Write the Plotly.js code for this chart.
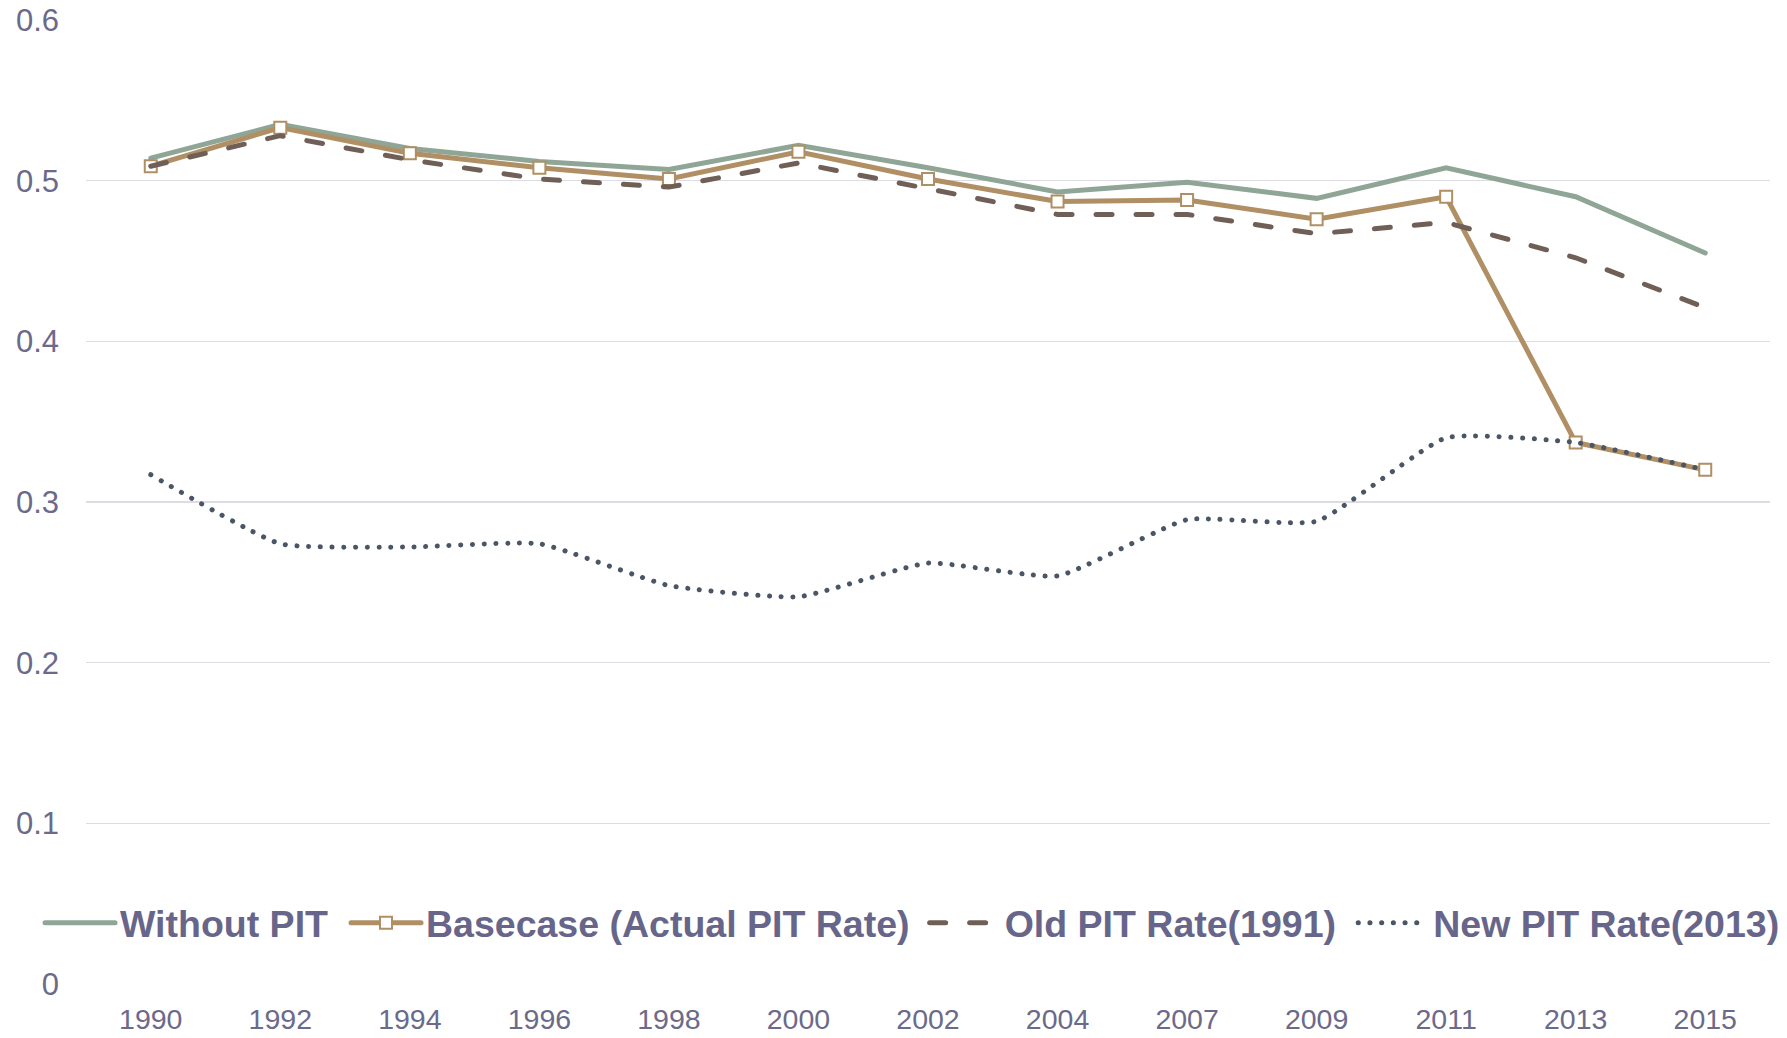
<!DOCTYPE html>
<html>
<head>
<meta charset="utf-8">
<script src="https://cdn.plot.ly/plotly-3.0.1.min.js"></script>
<style>
html, body { margin: 0; padding: 0; background: #ffffff; }
#chart { width: 1787px; height: 1038px; }
path.js-line { stroke-linecap: round; }
</style>
</head>
<body>
<div id="chart"></div>
<script>
var years = ["1990","1992","1994","1996","1998","2000","2002","2004","2007","2009","2011","2013","2015"];
var withoutPIT = [0.514, 0.535, 0.520, 0.512, 0.507, 0.522, 0.508, 0.493, 0.499, 0.489, 0.508, 0.490, 0.455];
var basecase   = [0.509, 0.533, 0.517, 0.508, 0.501, 0.518, 0.501, 0.487, 0.488, 0.476, 0.490, 0.337, 0.320];
var oldPIT     = [0.509, 0.528, 0.513, 0.501, 0.496, 0.511, 0.495, 0.479, 0.479, 0.467, 0.474, 0.452, 0.421];
var newPIT     = [0.317, 0.274, 0.272, 0.274, 0.248, 0.241, 0.262, 0.254, 0.289, 0.288, 0.340, 0.337, 0.320];
var yTicks = [0, 0.1, 0.2, 0.3, 0.4, 0.5, 0.6];
var seriesNames = ["Without PIT", "Basecase (Actual PIT Rate)", "Old PIT Rate(1991)", "New PIT Rate(2013)"];

var textColor = '#6b6a8a';
var fontFamily = 'Liberation Sans, Arial, sans-serif';

var traces = [
  {
    x: years, y: withoutPIT, name: seriesNames[0], type: 'scatter', mode: 'lines',
    line: {color: '#8fa596', width: 5}, legend: 'legend'
  },
  {
    x: years, y: basecase, name: seriesNames[1], type: 'scatter', mode: 'lines+markers',
    line: {color: '#b08f64', width: 5},
    marker: {symbol: 'square', size: 12, color: '#ffffff', line: {color: '#b08f64', width: 2}},
    legend: 'legend2'
  },
  {
    x: years, y: oldPIT, name: seriesNames[2], type: 'scatter', mode: 'lines',
    line: {color: '#6f5f57', width: 5, dash: '16px,24px'}, legend: 'legend3'
  },
  {
    x: years, y: newPIT, name: seriesNames[3], type: 'scatter', mode: 'lines',
    line: {color: '#4a5566', width: 5, dash: '0.1px,11.6px', shape: 'spline', smoothing: 0.45},
    legend: 'legend4'
  }
];

function mkLegend(xPos) {
  return {
    orientation: 'h', x: xPos, y: 0.0633, xanchor: 'left', yanchor: 'middle',
    bgcolor: 'rgba(0,0,0,0)', itemwidth: 70,
    font: {family: fontFamily, size: 37.5, color: '#67668a', weight: 'bold'}
  };
}

var layout = {
  width: 1787, height: 1038,
  margin: {l: 86, r: 17, t: 20, b: 54, autoexpand: false},
  paper_bgcolor: '#ffffff', plot_bgcolor: '#ffffff',
  font: {family: fontFamily, color: textColor},
  showlegend: true,
  legend: mkLegend(-0.0273),
  legend2: mkLegend(0.1544),
  legend3: mkLegend(0.4980),
  legend4: mkLegend(0.7525),
  xaxis: {
    type: 'category', categoryorder: 'array', categoryarray: years,
    range: [-0.5, 12.5], showgrid: false, zeroline: false, showline: false,
    ticks: '', ticklabelstandoff: 15,
    tickfont: {family: fontFamily, size: 28.5, color: textColor}
  },
  yaxis: {
    range: [0, 0.6], tickvals: yTicks, showgrid: true, gridcolor: '#dcdce2', gridwidth: 1.5,
    zeroline: false, showline: false, ticks: '', ticklabelstandoff: 26,
    tickfont: {family: fontFamily, size: 31, color: textColor}
  }
};

Plotly.newPlot('chart', traces, layout, {displayModeBar: false, staticPlot: true});
</script>
</body>
</html>
